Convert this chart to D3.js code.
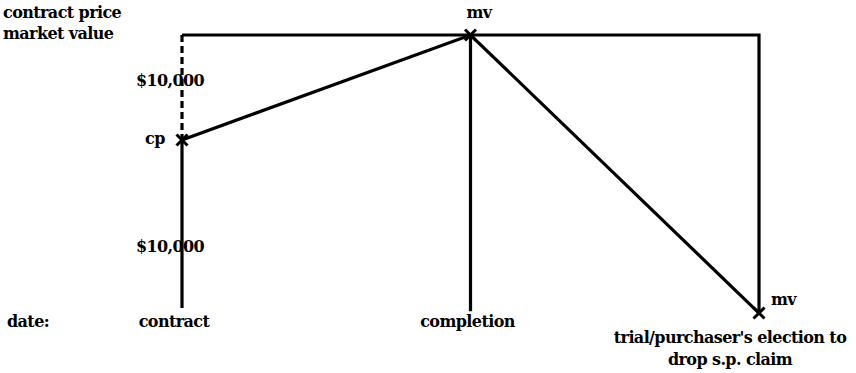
<!DOCTYPE html>
<html>
<head>
<meta charset="utf-8">
<script src="https://cdn.jsdelivr.net/npm/d3@7"></script>
<style>
  html, body { margin: 0; padding: 0; background: #fff; }
  svg { display: block; }
  text { font-family: "DejaVu Serif", serif; font-weight: bold; font-size: 16px; letter-spacing: -0.6px; fill: #000; }
</style>
</head>
<body>
<svg id="chart" width="856" height="373"></svg>
<script>
// ---- data ----
const dates = ["contract", "completion", "trial/purchaser's election to"];
const dateLabels = [["contract"], ["completion"], ["trial/purchaser's election to", "drop s.p. claim"]];
const levelValues = [0, 10000, 20000];           // baseline, contract price, market value at completion
const pathValues = [10000, 20000, -300];        // cp at contract, mv at completion, mv at trial
const pointLabels = ["cp", "mv", "mv"];
const gapLabels = ["$10,000", "$10,000"];
const axisTitle = ["contract price", "market value"];
const dateTitle = "date:";

// ---- scales ----
const svg = d3.select("#chart");
const x = d3.scalePoint().domain(dates).range([182, 759]);
const y = d3.scaleLinear().domain(levelValues).range([308, 140, 35]);

const stroke = "#000";
const sw = 3.2;

// top line across, then down the right side
const topPath = d3.path();
topPath.moveTo(x(dates[0]), y(levelValues[2]));
topPath.lineTo(x(dates[2]), y(levelValues[2]));
topPath.lineTo(x(dates[2]), y(pathValues[2]));
svg.append("path").attr("d", topPath.toString())
  .attr("fill", "none").attr("stroke", stroke).attr("stroke-width", sw)
  .attr("stroke-linejoin", "miter");

// dashed: contract price to market value at contract date
svg.append("line")
  .attr("x1", x(dates[0])).attr("x2", x(dates[0]))
  .attr("y1", y(levelValues[2])).attr("y2", y(levelValues[1]))
  .attr("stroke", stroke).attr("stroke-width", sw).attr("stroke-dasharray", "7,4");

// solid: baseline to contract price
svg.append("line")
  .attr("x1", x(dates[0])).attr("x2", x(dates[0]))
  .attr("y1", y(levelValues[0])).attr("y2", y(levelValues[1]))
  .attr("stroke", stroke).attr("stroke-width", sw);

// completion vertical
svg.append("line")
  .attr("x1", x(dates[1])).attr("x2", x(dates[1]))
  .attr("y1", y(levelValues[2])).attr("y2", y(-200))
  .attr("stroke", stroke).attr("stroke-width", sw);

// value path
const line = d3.line().x((d, i) => x(dates[i])).y(d => y(d));
svg.append("path").datum(pathValues).attr("d", line)
  .attr("fill", "none").attr("stroke", stroke).attr("stroke-width", sw);

// X markers
const m = 5.5;
svg.selectAll("path.mark").data(pathValues).join("path")
  .attr("class", "mark")
  .attr("d", (d, i) => {
    const cx = x(dates[i]), cy = y(d);
    return `M${cx - m},${cy - m}L${cx + m},${cy + m}M${cx + m},${cy - m}L${cx - m},${cy + m}`;
  })
  .attr("stroke", stroke).attr("stroke-width", 3).attr("fill", "none");

// point labels
const plPos = [
  { dx: -37, dy: 4, anchor: "start" },
  { dx: -4, dy: -17, anchor: "start" },
  { dx: 12, dy: -8, anchor: "start" }
];
svg.selectAll("text.pl").data(pointLabels).join("text")
  .attr("class", "pl")
  .attr("x", (d, i) => x(dates[i]) + plPos[i].dx)
  .attr("y", (d, i) => y(pathValues[i]) + plPos[i].dy)
  .attr("text-anchor", (d, i) => plPos[i].anchor)
  .text(d => d);

// gap labels
svg.append("text").attr("x", x(dates[0]) - 12).attr("y", 86)
  .attr("text-anchor", "middle").text(gapLabels[0]);
svg.append("text").attr("x", x(dates[0]) - 12).attr("y", 252)
  .attr("text-anchor", "middle").text(gapLabels[1]);

// axis title top-left
svg.selectAll("text.at").data(axisTitle).join("text")
  .attr("class", "at")
  .attr("x", 3).attr("y", (d, i) => 18 + i * 21)
  .text(d => d);

// date labels
svg.append("text").attr("x", 7).attr("y", 327).text(dateTitle);
const dlPos = [{ cx: x(dates[0]) - 8, y: 327 }, { cx: x(dates[1]) - 3, y: 327 }, { cx: x(dates[2]) - 29, y: 343 }];
dateLabels.forEach((lines, i) => {
  lines.forEach((t, j) => {
    svg.append("text")
      .attr("x", dlPos[i].cx).attr("y", dlPos[i].y + j * 22)
      .attr("text-anchor", "middle").text(t);
  });
});
</script>
</body>
</html>
